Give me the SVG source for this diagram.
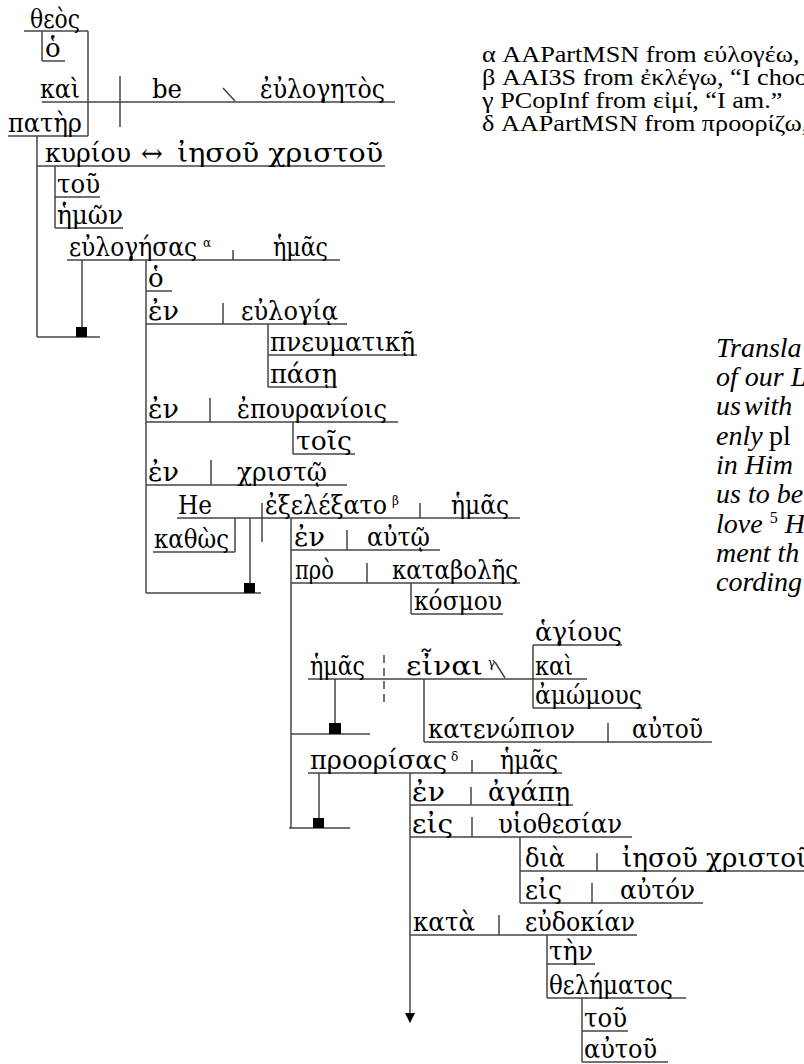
<svg xmlns="http://www.w3.org/2000/svg" width="804" height="1064" viewBox="0 0 804 1064">
<defs>
<style>
.g{font-family:"DejaVu Serif","Liberation Serif",serif;font-size:26px;fill:#000}
.s{font-family:"DejaVu Serif","Liberation Serif",serif;font-size:12px;fill:#000}
.ln{stroke:#444;stroke-width:1.5;fill:none}
.dl{stroke:#444;stroke-width:1.5;fill:none;stroke-dasharray:8,5}
.sq{fill:#000}
.fn{font-family:"Liberation Serif","Times New Roman",serif;font-size:23px;fill:#000}
.tr{font-family:"Liberation Serif","Times New Roman",serif;font-size:28px;font-style:italic;fill:#000}
.up{font-style:normal}
</style>
<marker id="arr" markerWidth="10" markerHeight="10" refX="9" refY="5" orient="auto" markerUnits="userSpaceOnUse" viewBox="0 0 10 10">
<path d="M0,0 L10,5 L0,10 z" fill="#000"/>
</marker>
</defs>
<rect width="804" height="1064" fill="#fff"/>

<g id="connectors">
<line class="ln" x1="88" y1="31" x2="88" y2="136"/>
<line class="ln" x1="42" y1="31" x2="42" y2="61"/>
<line class="ln" x1="120" y1="76" x2="120" y2="127"/>
<line class="ln" x1="37" y1="136" x2="37" y2="337"/>
<line class="ln" x1="37" y1="337" x2="100" y2="337"/>
<rect class="sq" x="76" y="327" width="11" height="10"/>
<line class="ln" x1="82" y1="260" x2="82" y2="327"/>
<line class="ln" x1="55" y1="166" x2="55" y2="228"/>
<line class="ln" x1="146" y1="260" x2="146" y2="593"/>
<line class="ln" x1="146" y1="593" x2="261" y2="593"/>
<rect class="sq" x="244" y="583" width="11" height="10"/>
<line class="ln" x1="250" y1="518" x2="250" y2="583"/>
<line class="ln" x1="268" y1="324" x2="268" y2="387"/>
<line class="ln" x1="293" y1="422" x2="293" y2="454"/>
<line class="ln" x1="235" y1="518" x2="235" y2="552"/>
<line class="ln" x1="291" y1="518" x2="291" y2="828"/>
<line class="ln" x1="289" y1="828" x2="350" y2="828"/>
<rect class="sq" x="313" y="818" width="11" height="10"/>
<line class="ln" x1="319" y1="773" x2="319" y2="818"/>
<line class="ln" x1="411" y1="583" x2="411" y2="614"/>
<line class="ln" x1="291" y1="734" x2="370" y2="734"/>
<rect class="sq" x="329" y="723" width="12" height="11"/>
<line class="ln" x1="335" y1="679" x2="335" y2="723"/>
<line class="ln" x1="533" y1="645" x2="533" y2="708"/>
<line class="ln" x1="424" y1="679" x2="424" y2="742"/>
<line class="ln" x1="410" y1="773" x2="410" y2="1022" marker-end="url(#arr)"/>
<line class="ln" x1="520" y1="837" x2="520" y2="903"/>
<line class="ln" x1="547" y1="935" x2="547" y2="998"/>
<line class="ln" x1="582" y1="998" x2="582" y2="1062"/>
</g>

<g id="n-theos">
<line class="ln" x1="24" y1="31" x2="88" y2="31"/>
<text class="g" x="30" y="28" textLength="50" lengthAdjust="spacingAndGlyphs">θεὸς</text>
</g>
<g id="n-ho1">
<line class="ln" x1="42" y1="61" x2="65" y2="61"/>
<text class="g" x="45" y="57">ὁ</text>
</g>
<g id="n-main">
<line class="ln" x1="42" y1="102" x2="395" y2="102"/>
<text class="g" x="40" y="98" textLength="40" lengthAdjust="spacingAndGlyphs">καὶ</text>
<text class="g" x="152" y="98" textLength="30" lengthAdjust="spacingAndGlyphs">be</text>
<line class="ln" x1="223" y1="88" x2="235" y2="101"/>
<text class="g" x="260" y="98" textLength="125" lengthAdjust="spacingAndGlyphs">ἐὐλογητὸς</text>
</g>
<g id="n-pater">
<line class="ln" x1="8" y1="136" x2="88" y2="136"/>
<text class="g" x="8" y="132" textLength="74" lengthAdjust="spacingAndGlyphs">πατὴρ</text>
</g>
<g id="n-kyriou">
<line class="ln" x1="37" y1="166" x2="385" y2="166"/>
<text class="g" x="45" y="162" textLength="86" lengthAdjust="spacingAndGlyphs">κυρίου</text>
<text class="g" x="141" y="162">↔</text>
<text class="g" x="177" y="162" textLength="206" lengthAdjust="spacingAndGlyphs">ἰησοῦ χριστοῦ</text>
</g>
<g id="n-tou1">
<line class="ln" x1="55" y1="197" x2="100" y2="197"/>
<text class="g" x="57" y="193" textLength="43" lengthAdjust="spacingAndGlyphs">τοῦ</text>
</g>
<g id="n-hemon">
<line class="ln" x1="55" y1="228" x2="123" y2="228"/>
<text class="g" x="57" y="224" textLength="66" lengthAdjust="spacingAndGlyphs">ἡμῶν</text>
</g>
<g id="n-eulogesas">
<line class="ln" x1="67" y1="260" x2="340" y2="260"/>
<text class="g" x="69" y="256" textLength="128" lengthAdjust="spacingAndGlyphs">εὐλογήσας</text>
<text class="s" x="203" y="247">α</text>
<line class="ln" x1="233" y1="250" x2="233" y2="260"/>
<text class="g" x="273" y="256" textLength="55" lengthAdjust="spacingAndGlyphs">ἡμᾶς</text>
</g>
<g id="n-ho2">
<line class="ln" x1="146" y1="291" x2="172" y2="291"/>
<text class="g" x="148" y="287">ὁ</text>
</g>
<g id="n-en-eulogia">
<line class="ln" x1="146" y1="324" x2="347" y2="324"/>
<text class="g" x="148" y="320" textLength="31" lengthAdjust="spacingAndGlyphs">ἐν</text>
<line class="ln" x1="223" y1="303" x2="223" y2="324"/>
<text class="g" x="241" y="320" textLength="97" lengthAdjust="spacingAndGlyphs">εὐλογίᾳ</text>
</g>
<g id="n-pneumatike">
<line class="ln" x1="268" y1="355" x2="417" y2="355"/>
<text class="g" x="270" y="351" textLength="145" lengthAdjust="spacingAndGlyphs">πνευματικῇ</text>
</g>
<g id="n-pase">
<line class="ln" x1="268" y1="387" x2="337" y2="387"/>
<text class="g" x="270" y="383" textLength="67" lengthAdjust="spacingAndGlyphs">πάσῃ</text>
</g>
<g id="n-en-epouraniois">
<line class="ln" x1="146" y1="422" x2="398" y2="422"/>
<text class="g" x="148" y="418" textLength="31" lengthAdjust="spacingAndGlyphs">ἐν</text>
<line class="ln" x1="210" y1="398" x2="210" y2="422"/>
<text class="g" x="237" y="418" textLength="150" lengthAdjust="spacingAndGlyphs">ἐπουρανίοις</text>
</g>
<g id="n-tois">
<line class="ln" x1="293" y1="454" x2="355" y2="454"/>
<text class="g" x="296" y="450" textLength="56" lengthAdjust="spacingAndGlyphs">τοῖς</text>
</g>
<g id="n-en-christo">
<line class="ln" x1="146" y1="485" x2="347" y2="485"/>
<text class="g" x="148" y="481" textLength="31" lengthAdjust="spacingAndGlyphs">ἐν</text>
<line class="ln" x1="211" y1="460" x2="211" y2="485"/>
<text class="g" x="237" y="481" textLength="90" lengthAdjust="spacingAndGlyphs">χριστῷ</text>
</g>
<g id="n-exelexato">
<line class="ln" x1="177" y1="518" x2="520" y2="518"/>
<text class="g" x="178" y="514" textLength="34" lengthAdjust="spacingAndGlyphs">He</text>
<line class="ln" x1="262" y1="503" x2="262" y2="542"/>
<text class="g" x="265" y="514" textLength="122" lengthAdjust="spacingAndGlyphs">ἐξελέξατο</text>
<text class="s" x="392" y="505">β</text>
<line class="ln" x1="420" y1="503" x2="420" y2="518"/>
<text class="g" x="451" y="514" textLength="58" lengthAdjust="spacingAndGlyphs">ἡμᾶς</text>
</g>
<g id="n-kathos">
<line class="ln" x1="153" y1="552" x2="235" y2="552"/>
<text class="g" x="154" y="548" textLength="75" lengthAdjust="spacingAndGlyphs">καθὼς</text>
</g>
<g id="n-en-auto">
<line class="ln" x1="291" y1="550" x2="440" y2="550"/>
<text class="g" x="294" y="546" textLength="31" lengthAdjust="spacingAndGlyphs">ἐν</text>
<line class="ln" x1="347" y1="530" x2="347" y2="550"/>
<text class="g" x="367" y="546" textLength="63" lengthAdjust="spacingAndGlyphs">αὐτῷ</text>
</g>
<g id="n-pro-katabolės">
<line class="ln" x1="291" y1="583" x2="520" y2="583"/>
<text class="g" x="295" y="579" textLength="39" lengthAdjust="spacingAndGlyphs">πρὸ</text>
<line class="ln" x1="367" y1="563" x2="367" y2="583"/>
<text class="g" x="392" y="579" textLength="126" lengthAdjust="spacingAndGlyphs">καταβολῆς</text>
</g>
<g id="n-kosmou">
<line class="ln" x1="411" y1="614" x2="503" y2="614"/>
<text class="g" x="414" y="610" textLength="88" lengthAdjust="spacingAndGlyphs">κόσμου</text>
</g>
<g id="n-einai">
<line class="ln" x1="308" y1="679" x2="587" y2="679"/>
<text class="g" x="310" y="675" textLength="55" lengthAdjust="spacingAndGlyphs">ἡμᾶς</text>
<line class="dl" x1="384" y1="655" x2="384" y2="702"/>
<text class="g" x="406" y="675" textLength="77" lengthAdjust="spacingAndGlyphs">εἶναι</text>
<text class="s" x="488" y="667">γ</text>
<line class="ln" x1="495" y1="662" x2="505" y2="678"/>
<text class="g" x="535" y="675" textLength="38" lengthAdjust="spacingAndGlyphs">καὶ</text>
</g>
<g id="n-hagious">
<line class="ln" x1="533" y1="645" x2="622" y2="645"/>
<text class="g" x="535" y="641" textLength="87" lengthAdjust="spacingAndGlyphs">ἁγίους</text>
</g>
<g id="n-amomous">
<line class="ln" x1="533" y1="708" x2="642" y2="708"/>
<text class="g" x="535" y="704" textLength="107" lengthAdjust="spacingAndGlyphs">ἀμώμους</text>
</g>
<g id="n-katenopion">
<line class="ln" x1="424" y1="742" x2="712" y2="742"/>
<text class="g" x="428" y="738" textLength="147" lengthAdjust="spacingAndGlyphs">κατενώπιον</text>
<line class="ln" x1="608" y1="723" x2="608" y2="742"/>
<text class="g" x="632" y="738" textLength="71" lengthAdjust="spacingAndGlyphs">αὐτοῦ</text>
</g>
<g id="n-proorisas">
<line class="ln" x1="308" y1="773" x2="562" y2="773"/>
<text class="g" x="310" y="769" textLength="137" lengthAdjust="spacingAndGlyphs">προορίσας</text>
<text class="s" x="451" y="761">δ</text>
<line class="ln" x1="472" y1="760" x2="472" y2="773"/>
<text class="g" x="500" y="769" textLength="58" lengthAdjust="spacingAndGlyphs">ἡμᾶς</text>
</g>
<g id="n-en-agape">
<line class="ln" x1="410" y1="805" x2="573" y2="805"/>
<text class="g" x="412" y="801" textLength="33" lengthAdjust="spacingAndGlyphs">ἐν</text>
<line class="ln" x1="471" y1="787" x2="471" y2="805"/>
<text class="g" x="488" y="801" textLength="82" lengthAdjust="spacingAndGlyphs">ἀγάπῃ</text>
</g>
<g id="n-eis-huiothesian">
<line class="ln" x1="410" y1="837" x2="632" y2="837"/>
<text class="g" x="412" y="833" textLength="41" lengthAdjust="spacingAndGlyphs">εἰς</text>
<line class="ln" x1="472" y1="817" x2="472" y2="837"/>
<text class="g" x="498" y="833" textLength="124" lengthAdjust="spacingAndGlyphs">υἱοθεσίαν</text>
</g>
<g id="n-dia">
<line class="ln" x1="520" y1="871" x2="804" y2="871"/>
<text class="g" x="525" y="867" textLength="40" lengthAdjust="spacingAndGlyphs">διὰ</text>
<line class="ln" x1="597" y1="853" x2="597" y2="871"/>
<text class="g" x="622" y="867" textLength="190" lengthAdjust="spacingAndGlyphs">ἰησοῦ χριστοῦ</text>
</g>
<g id="n-eis-auton">
<line class="ln" x1="520" y1="903" x2="703" y2="903"/>
<text class="g" x="525" y="899" textLength="37" lengthAdjust="spacingAndGlyphs">εἰς</text>
<line class="ln" x1="592" y1="883" x2="592" y2="903"/>
<text class="g" x="620" y="899" textLength="75" lengthAdjust="spacingAndGlyphs">αὐτόν</text>
</g>
<g id="n-kata">
<line class="ln" x1="410" y1="935" x2="637" y2="935"/>
<text class="g" x="413" y="931" textLength="62" lengthAdjust="spacingAndGlyphs">κατὰ</text>
<line class="ln" x1="499" y1="915" x2="499" y2="935"/>
<text class="g" x="525" y="931" textLength="110" lengthAdjust="spacingAndGlyphs">εὐδοκίαν</text>
</g>
<g id="n-ten">
<line class="ln" x1="547" y1="964" x2="595" y2="964"/>
<text class="g" x="549" y="960" textLength="44" lengthAdjust="spacingAndGlyphs">τὴν</text>
</g>
<g id="n-thelematos">
<line class="ln" x1="547" y1="998" x2="686" y2="998"/>
<text class="g" x="549" y="994" textLength="124" lengthAdjust="spacingAndGlyphs">θελήματος</text>
</g>
<g id="n-tou2">
<line class="ln" x1="582" y1="1031" x2="628" y2="1031"/>
<text class="g" x="584" y="1027" textLength="43" lengthAdjust="spacingAndGlyphs">τοῦ</text>
</g>
<g id="n-autou2">
<line class="ln" x1="582" y1="1062" x2="668" y2="1062"/>
<text class="g" x="584" y="1058" textLength="73" lengthAdjust="spacingAndGlyphs">αὐτοῦ</text>
</g>

<g id="footnotes" transform="translate(482,0) scale(1.14,1)">
<text class="fn" x="0" y="62">α AAPartMSN from εύλογέω,</text>
<text class="fn" x="0" y="85">β AAI3S from ἐκλέγω, “I choo</text>
<text class="fn" x="0" y="108">γ PCopInf from εἰμί, “I am.”</text>
<text class="fn" x="0" y="131">δ AAPartMSN from προορίζω,</text>
</g>

<g id="translation">
<text class="tr" x="716" y="357">Transla</text>
<text class="tr" x="716" y="386">of our L</text>
<text class="tr" x="716" y="415">us<tspan x="744">with</tspan></text>
<text class="tr" x="716" y="445">enly<tspan class="up" x="769">pl</tspan></text>
<text class="tr" x="716" y="474">in Him</text>
<text class="tr" x="716" y="503">us to be</text>
<text class="tr" x="716" y="533">love <tspan class="up" font-size="16" dy="-10">5</tspan><tspan dy="10"> H</tspan></text>
<text class="tr" x="716" y="562">ment th</text>
<text class="tr" x="716" y="591">cording</text>
</g>
</svg>
